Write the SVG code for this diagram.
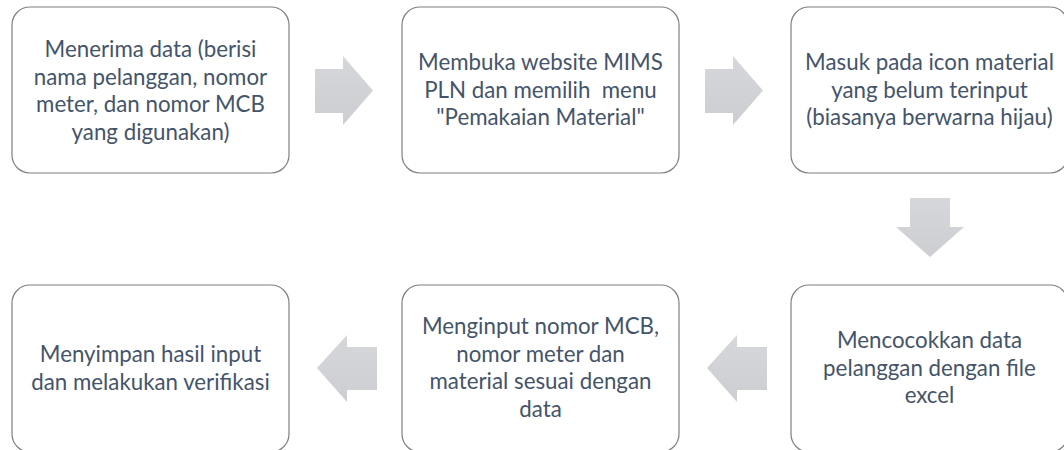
<svg xmlns="http://www.w3.org/2000/svg" width="1064" height="450" viewBox="0 0 1064 450">
<style>
.box{fill:#ffffff;stroke:#7f7f7f;stroke-width:1.2}
.t{font-family:Lato,"Liberation Sans",sans-serif;font-size:22.3px;fill:#44546a;text-anchor:middle;white-space:pre}
.arr{fill:url(#g);stroke:none}
</style>
<defs>
<linearGradient id="g" x1="0" y1="0" x2="0" y2="1">
<stop offset="0" stop-color="#d6d7da"/>
<stop offset="1" stop-color="#cdced2"/>
</linearGradient>
</defs>
<rect width="1064" height="450" fill="#ffffff"/>
<g id="connectors">
<polygon class="arr" points="315,69 343,69 343,56 373,90.5 343,125 343,113 315,113"/>
<polygon class="arr" points="705,69 733,69 733,56 763,90.5 733,125 733,113 705,113"/>
<polygon class="arr" points="910,198 950,198 950,227 964,227 930,257 896,227 910,227"/>
<polygon class="arr" points="767,347 737,347 737,335 707,368 737,402 737,390 767,390"/>
<polygon class="arr" points="377,347 347,347 347,335 317,368 347,402 347,390 377,390"/>
</g>
<g id="n1">
<rect class="box" x="12" y="7" width="277" height="166" rx="18"/>
<text class="t" x="150.5" y="57">Menerima data (berisi</text>
<text class="t" x="150.5" y="84.5">nama pelanggan, nomor</text>
<text class="t" x="150.5" y="112">meter, dan nomor MCB</text>
<text class="t" x="150.5" y="139.5">yang digunakan)</text>
</g>
<g id="n2">
<rect class="box" x="402" y="7" width="277" height="166" rx="18"/>
<text class="t" x="540.5" y="70">Membuka website MIMS</text>
<text class="t" x="540.5" y="97.5">PLN dan memilih  menu</text>
<text class="t" x="540.5" y="125">"Pemakaian Material"</text>
</g>
<g id="n3">
<rect class="box" x="791" y="7" width="277" height="166" rx="18"/>
<text class="t" x="929.5" y="70">Masuk pada icon material</text>
<text class="t" x="929.5" y="97.5">yang belum terinput</text>
<text class="t" x="929.5" y="125">(biasanya berwarna hijau)</text>
</g>
<g id="n4">
<rect class="box" x="791" y="285" width="277" height="167" rx="18"/>
<text class="t" x="929.5" y="348">Mencocokkan data</text>
<text class="t" x="929.5" y="375.5">pelanggan dengan file</text>
<text class="t" x="929.5" y="403">excel</text>
</g>
<g id="n5">
<rect class="box" x="402" y="285" width="277" height="167" rx="18"/>
<text class="t" x="540.5" y="334">Menginput nomor MCB,</text>
<text class="t" x="540.5" y="361.5">nomor meter dan</text>
<text class="t" x="540.5" y="389">material sesuai dengan</text>
<text class="t" x="540.5" y="416.5">data</text>
</g>
<g id="n6">
<rect class="box" x="12" y="285" width="277" height="167" rx="18"/>
<text class="t" x="150.5" y="362">Menyimpan hasil input</text>
<text class="t" x="150.5" y="389.5">dan melakukan verifikasi</text>
</g>
</svg>
